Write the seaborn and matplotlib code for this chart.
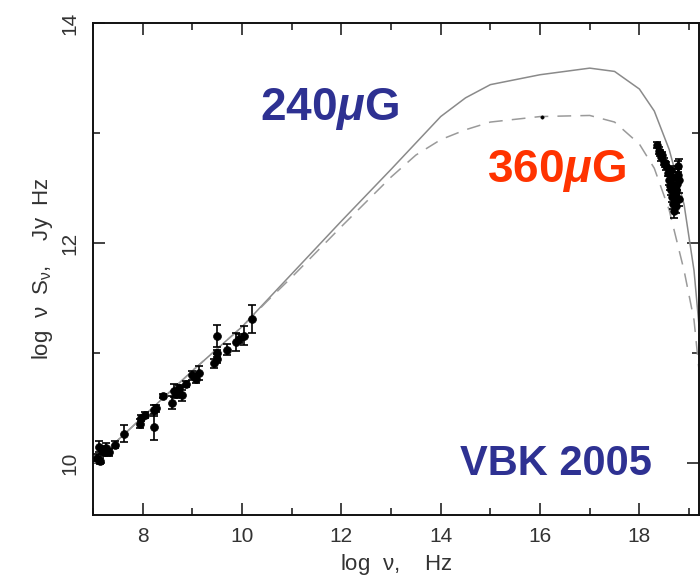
import matplotlib
matplotlib.use("Agg")
import matplotlib.pyplot as plt
import seaborn as sns
import numpy as np
import pandas as pd
from matplotlib.ticker import MultipleLocator

# ---- data ----
curve_x = [7.0, 8.0, 9.0, 10.0, 10.5, 11.0, 12.0, 13.0, 13.5, 14.0, 14.5, 15.0, 16.0,
           17.0, 17.5, 18.0, 18.3, 18.6, 18.9, 19.1, 19.2]
solid_240 = [10.0, 10.42, 10.84, 11.24, 11.48, 11.72, 12.20, 12.67, 12.91, 13.15, 13.32,
             13.44, 13.53, 13.59, 13.56, 13.40, 13.20, 12.85, 12.35, 11.75, 11.25]
dashed_360 = [10.0, 10.42, 10.84, 11.24, 11.47, 11.69, 12.15, 12.60, 12.80, 12.94, 13.03,
              13.10, 13.15, 13.16, 13.10, 12.90, 12.68, 12.30, 11.75, 11.30, 10.85]

radio_x = [7.08, 7.12, 7.15, 7.18, 7.22, 7.27, 7.33, 7.44, 7.62, 7.94, 7.97, 8.04, 8.22,
           8.22, 8.27, 8.40, 8.60, 8.64, 8.68, 8.74, 8.80, 8.87, 9.00, 9.07, 9.14, 9.44,
           9.50, 9.50, 9.50, 9.70, 9.88, 9.94, 10.04, 10.20]
radio_y = [10.05, 10.15, 10.02, 10.12, 10.10, 10.14, 10.10, 10.17, 10.27, 10.36, 10.41,
           10.44, 10.48, 10.33, 10.50, 10.61, 10.55, 10.66, 10.63, 10.68, 10.62, 10.72,
           10.80, 10.77, 10.82, 10.91, 10.95, 11.00, 11.16, 11.03, 11.10, 11.13, 11.16, 11.31]
radio_err = [0.03, 0.05, 0.03, 0.04, 0.03, 0.04, 0.03, 0.03, 0.08, 0.04, 0.03, 0.03, 0.05,
             0.12, 0.03, 0.02, 0.06, 0.06, 0.04, 0.03, 0.05, 0.03, 0.04, 0.04, 0.06, 0.04,
             0.04, 0.03, 0.10, 0.05, 0.08, 0.04, 0.09, 0.13]

optical_x = [16.03]
optical_y = [13.15]

xray_x = [18.36, 18.39, 18.42, 18.44, 18.46, 18.49, 18.52, 18.54, 18.57, 18.60, 18.62,
          18.64, 18.66, 18.68, 18.70, 18.72, 18.74, 18.76, 18.78, 18.80, 18.80, 18.78,
          18.64, 18.70, 18.68, 18.74, 18.72]
xray_y = [12.89, 12.84, 12.82, 12.78, 12.80, 12.74, 12.72, 12.70, 12.64, 12.57, 12.52,
          12.48, 12.42, 12.36, 12.29, 12.40, 12.48, 12.54, 12.70, 12.57, 12.40, 12.62,
          12.66, 12.53, 12.60, 12.34, 12.46]
xray_err = [0.03, 0.03, 0.03, 0.03, 0.03, 0.03, 0.03, 0.04, 0.03, 0.04, 0.04, 0.04, 0.05,
            0.05, 0.06, 0.05, 0.05, 0.06, 0.05, 0.19, 0.06, 0.05, 0.04, 0.05, 0.05, 0.07,
            0.05]

labels = ["240$\\mu$G", "360$\\mu$G", "VBK 2005"]

# ---- style ----
sns.set_theme(style="ticks")
plt.rcParams['font.family'] = ['Liberation Sans', 'DejaVu Sans']
plt.rcParams['mathtext.fontset'] = 'custom'
plt.rcParams['mathtext.rm'] = 'Liberation Sans'
plt.rcParams['mathtext.it'] = 'Liberation Sans:italic:bold'
plt.rcParams['mathtext.bf'] = 'Liberation Sans:bold'

fig = plt.figure(figsize=(7.0, 5.78), dpi=100)
ax = fig.add_axes([93/700, (578-515)/578, (699-93)/700, (515-23)/578])

df = pd.DataFrame({"x": curve_x, "s240": solid_240, "s360": dashed_360})
sns.lineplot(data=df, x="x", y="s240", ax=ax, color="#8a8a8a", lw=1.1, sort=False)
sns.lineplot(data=df, x="x", y="s360", ax=ax, color="#9a9a9a", lw=1.1, sort=False,
             dashes=False, linestyle=(0, (9, 6)))

ax.errorbar(radio_x, radio_y, yerr=radio_err, fmt='none', ecolor='black', elinewidth=1.2,
            capsize=3, capthick=1.2, zorder=3)
sns.scatterplot(x=radio_x, y=radio_y, ax=ax, color='black', s=32, edgecolor='black',
                linewidth=0.5, zorder=4)
ax.errorbar(xray_x, xray_y, yerr=xray_err, fmt='none', ecolor='black', elinewidth=1.2,
            capsize=3, capthick=1.2, zorder=3)
sns.scatterplot(x=xray_x, y=xray_y, ax=ax, color='black', s=30, edgecolor='black',
                linewidth=0.5, zorder=4)
sns.scatterplot(x=optical_x, y=optical_y, ax=ax, color='black', s=6, edgecolor='black',
                linewidth=0.3, zorder=4)

ax.set_xlim(7.0, 19.2)
ax.set_ylim(9.53, 14.0)
ax.xaxis.set_major_locator(MultipleLocator(2))
ax.xaxis.set_minor_locator(MultipleLocator(1))
ax.yaxis.set_major_locator(MultipleLocator(2))
ax.yaxis.set_minor_locator(MultipleLocator(1))
ax.tick_params(which='both', direction='in', top=True, right=True, width=1.1,
               colors='#111111', labelcolor='#333333', labelsize=15)
ax.tick_params(which='major', length=8.5)
ax.tick_params(which='minor', length=5)
ax.tick_params(axis='x', pad=9)
ax.tick_params(axis='y', pad=10, labelrotation=90)
for lab in ax.get_yticklabels():
    lab.set_va('center')
for sp in ax.spines.values():
    sp.set_linewidth(1.4)
    sp.set_color('#111111')

ax.set_xlabel("log  $\\mathrm{\\nu}$,    Hz", fontsize=16, color='#333333', labelpad=4)
ax.set_ylabel("log  $\\mathrm{\\nu}$  S$_\\mathrm{\\nu}$,    Jy  Hz", fontsize=16,
              color='#333333', labelpad=4)

ax.text(10.36, 13.12, labels[0], color='#2E3192', fontsize=33, fontweight='bold',
        ha='left', va='baseline')
ax.text(14.93, 12.555, labels[1], color='#FF3300', fontsize=33, fontweight='bold',
        ha='left', va='baseline')
ax.text(14.38, 9.89, labels[2], color='#2E3192', fontsize=30, fontweight='bold',
        ha='left', va='baseline')

fig.savefig("out.png", dpi=100)
